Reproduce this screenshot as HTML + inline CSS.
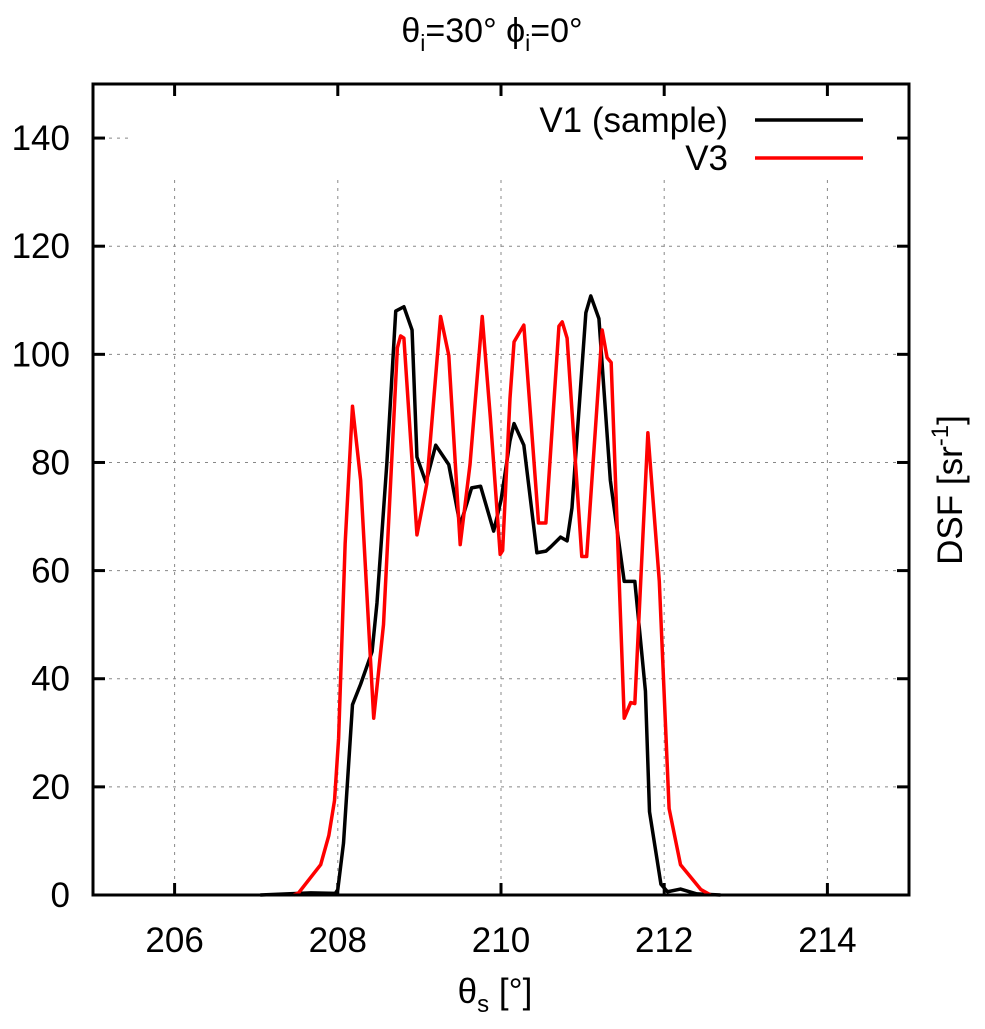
<!DOCTYPE html>
<html><head><meta charset="utf-8"><style>
body{margin:0;background:#fff;}
svg text{font-family:"Liberation Sans",sans-serif;fill:#000;}
</style></head><body>
<svg id="chart" width="985" height="1024" viewBox="0 0 985 1024" xmlns="http://www.w3.org/2000/svg">
<text x="492" y="42" font-size="34" text-anchor="middle">θ<tspan font-size="23" dy="9">i</tspan><tspan dy="-9">=30° ϕ</tspan><tspan font-size="23" dy="9">i</tspan><tspan dy="-9">=0°</tspan></text>
<g id="grid"></g>
<rect x="130" y="95" width="770" height="82" fill="#fff"/>
<g id="series"></g>
<g id="axes"></g>
<g>
<text x="728" y="132" font-size="35" text-anchor="end">V1 (sample)</text>
<line x1="755" y1="120" x2="863" y2="120" stroke="#000" stroke-width="3.5"/>
<text x="728" y="170" font-size="35" text-anchor="end">V3</text>
<line x1="755" y1="158" x2="863" y2="158" stroke="#f00" stroke-width="3.5"/>
</g>
<text x="495" y="1003" font-size="35" text-anchor="middle">θ<tspan font-size="24" dy="9">s</tspan><tspan dy="-9"> [°]</tspan></text>
<text transform="translate(962,490) rotate(-90)" font-size="35" text-anchor="middle">DSF [sr<tspan font-size="24" dy="-14">-1</tspan><tspan dy="14">]</tspan></text>
</svg>
<script>
const xTicks=[206,208,210,212,214];
const yTicks=[0,20,40,60,80,100,120,140];
const v1X=[207.05,207.67,207.97,208.0,208.07,208.18,208.28,208.42,208.48,208.6,208.71,208.81,208.91,208.97,209.08,209.2,209.36,209.5,209.64,209.75,209.91,210.0,210.11,210.16,210.28,210.44,210.55,210.61,210.73,210.81,210.87,211.04,211.1,211.2,211.34,211.51,211.64,211.77,211.82,211.96,212.04,212.2,212.4,212.69];
const v1Y=[0,0.4,0.3,1,9.6,35.2,39,45,54,79.6,108,108.8,104.5,81,76.3,83.2,79.6,68.4,75.3,75.6,67.3,73,84,87.2,83.2,63.3,63.6,64.4,66.2,65.5,71.6,107.7,110.8,106.6,76.7,58,58,37.7,15.4,2,0.6,1.1,0.2,0];
const v3X=[207.46,207.52,207.79,207.89,207.96,208.01,208.09,208.18,208.28,208.44,208.56,208.73,208.77,208.81,208.97,209.09,209.26,209.36,209.5,209.62,209.77,209.87,209.99,210.02,210.11,210.16,210.28,210.46,210.55,210.71,210.75,210.81,210.99,211.05,211.24,211.3,211.35,211.51,211.59,211.64,211.8,211.94,212.06,212.2,212.45,212.57];
const v3Y=[0,0.4,5.6,11,17.5,29,65,90.4,76.7,32.7,50,101.2,103.4,103,66.6,76,107,99.8,64.8,79.6,107,88.2,63,63.7,91.8,102.3,105.4,68.8,68.8,105.2,106,103,62.6,62.6,104.5,99.4,98.5,32.7,35.6,35.4,85.5,58,16,5.6,1,0];
const L=93,R=909,T=84,B=895;
const sx=v=>L+(v-205)*(R-L)/10;
const sy=v=>B-v*(B-T)/150;
const NS="http://www.w3.org/2000/svg";
function mk(tag,attrs,parent){const e=document.createElementNS(NS,tag);for(const k in attrs)e.setAttribute(k,attrs[k]);parent.appendChild(e);return e;}
const grid=document.getElementById('grid'),axes=document.getElementById('axes'),series=document.getElementById('series');
xTicks.forEach(t=>{
  const g=mk('line',{x1:sx(t),x2:sx(t),y1:T,y2:B,stroke:'#888','stroke-width':1,'stroke-dasharray':'3,5'},grid);
  
  
  const a=mk('line',{x1:sx(t),x2:sx(t),y1:B,y2:B-12,stroke:'#000','stroke-width':3},axes);
  
  
  const b=mk('line',{x1:sx(t),x2:sx(t),y1:T,y2:T+12,stroke:'#000','stroke-width':3},axes);
  
  
  const tx=mk('text',{x:sx(t),y:952,'font-size':35,'text-anchor':'middle'},axes);tx.textContent=t;
  
  
});
yTicks.forEach(t=>{
  if(t>0){const g=mk('line',{x1:L,x2:R,y1:sy(t),y2:sy(t),stroke:'#888','stroke-width':1,'stroke-dasharray':'3,5'},grid);
  
  }
  const a=mk('line',{x1:L,x2:L+12,y1:sy(t),y2:sy(t),stroke:'#000','stroke-width':3},axes);
  
  
  const b=mk('line',{x1:R,x2:R-12,y1:sy(t),y2:sy(t),stroke:'#000','stroke-width':3},axes);
  
  
  const tx=mk('text',{x:70,y:sy(t)+12,'font-size':35,'text-anchor':'end'},axes);tx.textContent=t;
  
  
});
const fr=mk('rect',{x:L,y:T,width:R-L,height:B-T,fill:'none',stroke:'#000','stroke-width':3},axes);


const p1=mk('polyline',{points:v1X.map((x,i)=>sx(x)+','+sy(v1Y[i])).join(' '),fill:'none',stroke:'#000','stroke-width':3.5,'stroke-linejoin':'round'},series);


const p3=mk('polyline',{points:v3X.map((x,i)=>sx(x)+','+sy(v3Y[i])).join(' '),fill:'none',stroke:'#f00','stroke-width':3.5,'stroke-linejoin':'round'},series);


</script>
</body></html>
